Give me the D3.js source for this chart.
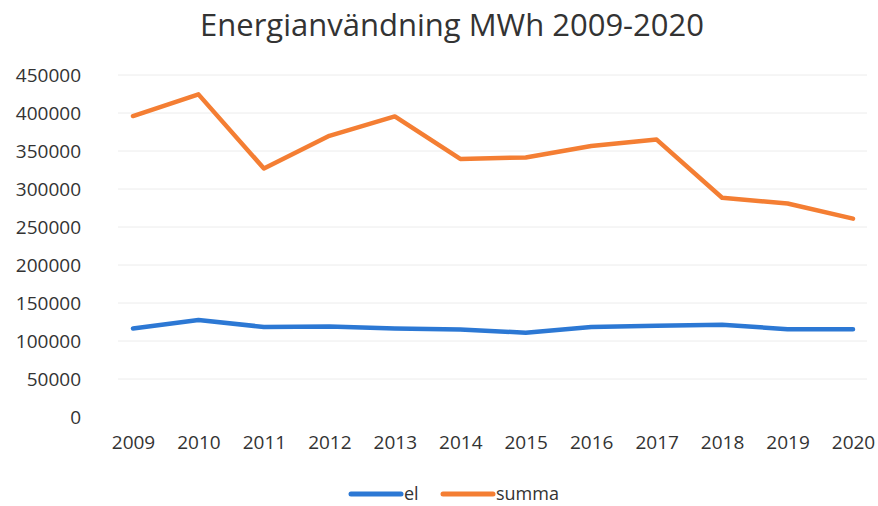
<!DOCTYPE html>
<html>
<head>
<meta charset="utf-8">
<script src="https://cdn.jsdelivr.net/npm/d3@7"></script>
<style>
  body { margin: 0; background: #fff; }
  text { font-family: "Open Sans", sans-serif; fill: #333; }
</style>
</head>
<body>
<div id="chart"></div>
<script>
// years on the x axis
const years = ["2009", "2010", "2011", "2012", "2013", "2014", "2015", "2016", "2017", "2018", "2019", "2020"];
// electricity use (MWh)
const elValues = [116500, 127500, 118500, 119000, 116500, 115000, 111000, 118500, 120000, 121500, 115500, 115500];
// total energy use (MWh)
const summaValues = [396000, 424500, 327000, 370000, 395500, 339500, 341500, 356500, 365000, 288500, 281000, 261000];
const yTicks = [0, 50000, 100000, 150000, 200000, 250000, 300000, 350000, 400000, 450000];
const seriesNames = ["el", "summa"];
const colors = ["#2c78d4", "#f47e33"];

const width = 878, height = 506;

const svg = d3.select("#chart")
    .append("svg")
    .attr("width", width)
    .attr("height", height);

// scales
const x = d3.scalePoint()
    .domain(years)
    .range([133, 853]);
const y = d3.scaleLinear()
    .domain([0, 450000])
    .range([417, 75]);

// gridlines
svg.append("g")
    .selectAll("line")
    .data(yTicks.slice(1))
    .join("line")
    .attr("x1", 118)
    .attr("x2", 867)
    .attr("y1", d => y(d))
    .attr("y2", d => y(d))
    .attr("stroke", "#ececec")
    .attr("stroke-width", 1);

// y axis labels
const yAxis = d3.axisLeft(y).tickValues(yTicks).tickSize(0).tickPadding(0).tickFormat(d3.format("d"));
svg.append("g")
    .attr("transform", "translate(81,0)")
    .call(yAxis)
    .call(g => g.select(".domain").remove())
    .selectAll("text")
    .style("font-size", "19px")
    .style("font-family", "Open Sans, sans-serif")
    .attr("fill", "#333");

// x axis labels
const xAxis = d3.axisBottom(x).tickSize(0).tickPadding(0);
svg.append("g")
    .attr("transform", "translate(0,435)")
    .call(xAxis)
    .call(g => g.select(".domain").remove())
    .selectAll("text")
    .style("font-size", "19px")
    .style("font-family", "Open Sans, sans-serif")
    .attr("fill", "#333");

// lines
const line = d3.line()
    .x((d, i) => x(years[i]))
    .y(d => y(d));

[elValues, summaValues].forEach(function (values, k) {
    svg.append("path")
        .datum(values)
        .attr("d", line)
        .attr("fill", "none")
        .attr("stroke", colors[k])
        .attr("stroke-width", 4.5)
        .attr("stroke-linejoin", "round")
        .attr("stroke-linecap", "round");
});

// title
svg.append("text")
    .attr("x", 452)
    .attr("y", 36)
    .attr("text-anchor", "middle")
    .style("font-size", "31px")
    .text("Energianvändning MWh 2009-2020");

// legend
const legendX = [351, 443];
const legend = svg.append("g");
seriesNames.forEach(function (name, k) {
    legend.append("line")
        .attr("x1", legendX[k])
        .attr("x2", legendX[k] + 50)
        .attr("y1", 494)
        .attr("y2", 494)
        .attr("stroke", colors[k])
        .attr("stroke-width", 5)
        .attr("stroke-linecap", "round");
    legend.append("text")
        .attr("x", legendX[k] + 53)
        .attr("y", 500)
        .style("font-size", "18px")
        .text(name);
});
</script>
</body>
</html>
